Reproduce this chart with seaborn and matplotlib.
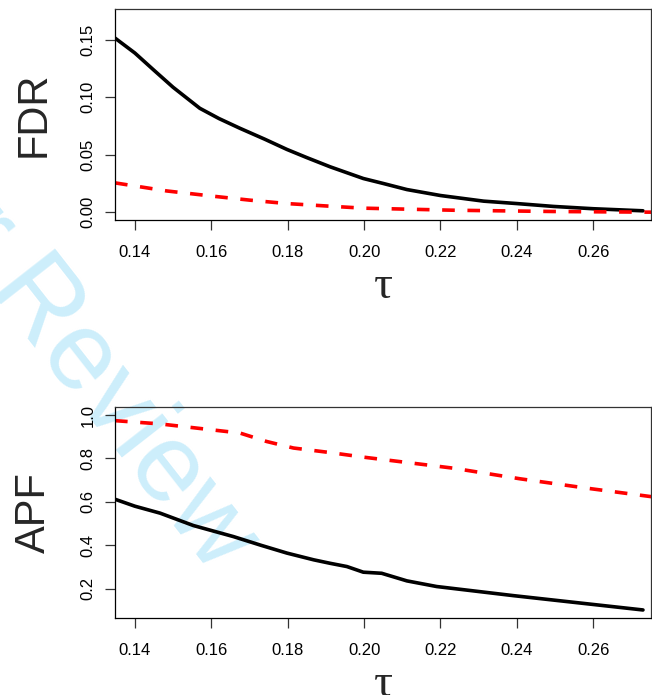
import matplotlib
matplotlib.use("Agg")
import matplotlib.pyplot as plt
import seaborn as sns

# ---- data ----
tau_fdr_solid = [0.1348, 0.1400, 0.1450, 0.1500, 0.1570, 0.1620, 0.1675, 0.1740, 0.1798,
                 0.1850, 0.1911, 0.1998, 0.2050, 0.2112, 0.2200, 0.2313, 0.2400, 0.2496,
                 0.2600, 0.2730]
fdr_solid = [0.1515, 0.1385, 0.1235, 0.1087, 0.0904, 0.0815, 0.0730, 0.0635, 0.0546,
             0.0475, 0.0395, 0.0293, 0.0250, 0.0197, 0.0145, 0.0096, 0.0075, 0.0050,
             0.0030, 0.0012]

tau_fdr_dash = [0.1348, 0.1483, 0.1605, 0.1700, 0.1798, 0.1911, 0.1998, 0.2234, 0.2496, 0.2760]
fdr_dash = [0.0255, 0.0185, 0.0139, 0.0105, 0.0075, 0.0052, 0.0035, 0.0017, 0.0006, 0.0000]

tau_apf_solid = [0.1348, 0.1400, 0.1466, 0.1553, 0.1658, 0.1730, 0.1798, 0.1868, 0.1911,
                 0.1955, 0.1998, 0.2046, 0.2112, 0.2190, 0.2391, 0.2730]
apf_solid = [0.612, 0.580, 0.548, 0.491, 0.440, 0.400, 0.364, 0.333, 0.317,
             0.302, 0.276, 0.271, 0.236, 0.210, 0.168, 0.102]

tau_apf_dash = [0.1348, 0.1466, 0.1605, 0.1675, 0.1745, 0.1815, 0.1911, 0.1998, 0.2234,
                0.2409, 0.2583, 0.2760]
apf_dash = [0.974, 0.959, 0.931, 0.917, 0.878, 0.848, 0.827, 0.806, 0.755,
            0.706, 0.663, 0.622]

x_ticks = [0.14, 0.16, 0.18, 0.20, 0.22, 0.24, 0.26]
x_ticklabels = ["0.14", "0.16", "0.18", "0.20", "0.22", "0.24", "0.26"]
fdr_ticks = [0.00, 0.05, 0.10, 0.15]
fdr_ticklabels = ["0.00", "0.05", "0.10", "0.15"]
apf_ticks = [0.2, 0.4, 0.6, 0.8, 1.0]
apf_ticklabels = ["0.2", "0.4", "0.6", "0.8", "1.0"]
ylabels = ["FDR", "APF"]
xlabel = "τ"
watermark = "For Peer Review"

# ---- style ----
sns.set_style("ticks")
plt.rcParams["font.family"] = ["Liberation Sans", "DejaVu Sans"]

W, H = 652, 695
fig = plt.figure(figsize=(W / 100, H / 100), dpi=100)
fig.patch.set_facecolor("white")

def px_axes(l, t, r, b):
    return fig.add_axes([l / W, 1 - b / H, (r - l) / W, (b - t) / H])

ax1 = px_axes(115, 9, 651, 220)
ax2 = px_axes(115, 407.3, 651, 617.7)

lw = 2.6
panels = [
    (ax1, tau_fdr_solid, fdr_solid, tau_fdr_dash, fdr_dash, (-0.0068, 0.1768),
     fdr_ticks, fdr_ticklabels, ylabels[0]),
    (ax2, tau_apf_solid, apf_solid, tau_apf_dash, apf_dash, (0.0664, 1.0355),
     apf_ticks, apf_ticklabels, ylabels[1]),
]

for ax, xs, ys, xd, yd, ylim, yt, ytl, ylab in panels:
    ax.set_facecolor("none")
    sns.lineplot(x=xs, y=ys, ax=ax, color="black", lw=lw, estimator=None,
                 solid_capstyle="round", solid_joinstyle="round")
    sns.lineplot(x=xd, y=yd, ax=ax, color="#ff0000", lw=lw, estimator=None,
                 linestyle=(0, (3.5, 3.5)))
    ax.set_xlim(0.1348, 0.2751)
    ax.set_ylim(*ylim)
    ax.set_xticks(x_ticks)
    ax.set_xticklabels(x_ticklabels)
    ax.set_yticks(yt)
    ax.set_yticklabels(ytl, rotation=90, va="center")
    ax.tick_params(axis="both", length=7.2, width=0.9, labelsize=12,
                   color="#333333", labelcolor="black")
    ax.tick_params(axis="x", pad=11)
    ax.tick_params(axis="y", pad=7)
    for s in ax.spines.values():
        s.set_visible(True)
        s.set_linewidth(0.9)
        s.set_color("#333333")
    ax.spines["left"].set_color("black")
    ax.spines["bottom"].set_color("black")
    ax.set_ylabel(ylab, fontsize=30, rotation=90)
    ax.yaxis.set_label_coords(-0.152, 0.5)
    ax.yaxis.label.set_va("center")
    ax.set_xlabel(xlabel, fontsize=34, family=["Liberation Serif", "DejaVu Serif"])
    ax.xaxis.label.set_va("baseline")

ax1.xaxis.set_label_coords(0.5, -(298 - 220) / 211)
ax2.xaxis.set_label_coords(0.5, -(695.7 - 617.7) / 210.4)

fig.text(212 / W, 1 - 576 / H, watermark, rotation=-52, rotation_mode="anchor",
         ha="right", va="baseline", fontsize=80, color="#cdeefb", zorder=-1)

fig.savefig("out.png", dpi=100, facecolor="white")
